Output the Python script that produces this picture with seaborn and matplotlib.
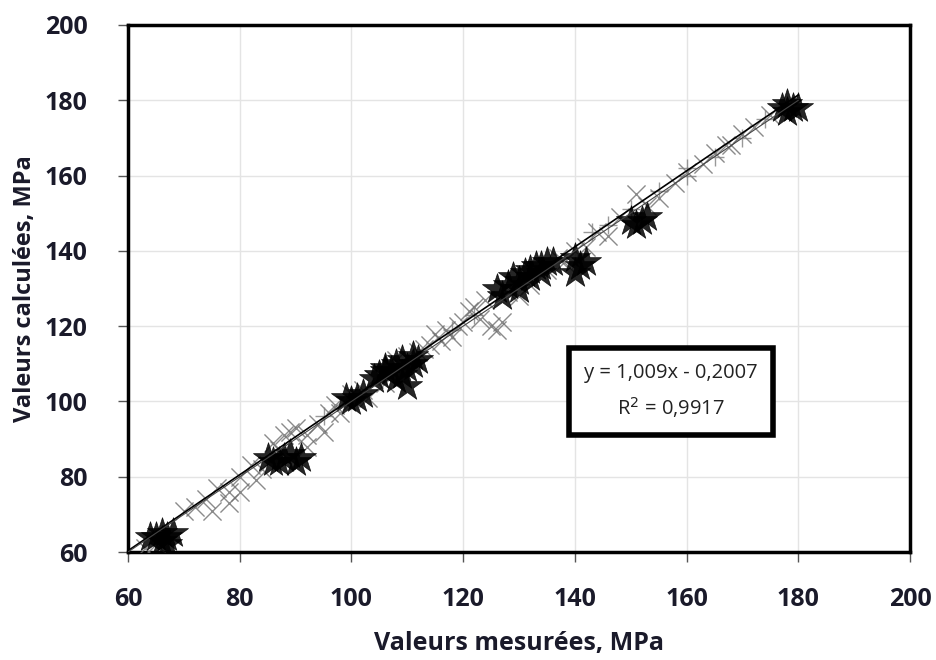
import matplotlib
matplotlib.use("Agg")
import matplotlib.pyplot as plt
import seaborn as sns
import pandas as pd
import numpy as np

# ---- data ----
star_meas = [65, 66, 67, 68, 66, 67, 64,
             85, 86, 88, 90, 91, 89, 87,
             99, 100, 101, 102,
             105, 106, 107, 108, 109, 110, 111, 112, 108, 110, 109, 106, 104, 111,
             126, 128, 129, 130, 131, 132, 133, 134, 135, 136, 130, 132, 127, 134,
             140, 141, 142, 140,
             150, 152, 153, 151,
             177, 178, 179, 178, 180]
star_calc = [64, 63, 64, 65, 65, 62, 64,
             85, 84, 85, 84, 85, 86, 84,
             101, 100, 101, 102,
             107, 109, 108, 110, 111, 109, 110, 111, 106, 104, 107, 108, 106, 112,
             130, 131, 133, 132, 134, 135, 136, 136, 137, 137, 130, 133, 128, 134,
             138, 136, 137, 134,
             148, 148, 149, 147,
             178, 179, 178, 177, 178]

x_meas = [63, 65, 70, 72, 74, 76, 78, 80, 82, 84, 86, 87, 88, 89, 90, 92, 94,
          96, 98, 100, 102, 104, 106, 108, 110, 112, 114, 115, 116, 117, 118,
          120, 121, 122, 123, 124, 125, 126, 127, 128, 130, 135, 138, 140, 142,
          144, 146, 148, 151, 155, 158, 160, 163, 165, 168, 170, 172, 175,
          75, 78, 80, 83, 92, 95, 97, 103, 113, 119, 132, 137, 153, 167]
x_calc = [61, 62, 71, 72, 74, 77, 76, 80, 83, 82, 89, 87, 91, 92, 93, 91, 94,
          97, 97, 102, 103, 106, 105, 111, 112, 113, 115, 118, 116, 119, 117,
          121, 124, 125, 122, 127, 120, 119, 121, 129, 128, 135, 137, 140, 141,
          145, 144, 149, 155, 154, 158, 161, 163, 166, 168, 171, 173, 176,
          71, 73, 76, 79, 88, 92, 99, 101, 114, 120, 131, 138, 152, 168]

p_meas = [143, 146, 150, 155, 160, 165, 170, 174, 160, 95, 118, 122]
p_calc = [145, 147, 151, 156, 160, 165, 170, 175, 162, 96, 119, 123]

fit_slope = 1.009
fit_intercept = -0.2007
fit_r2 = 0.9917
fit_range = [60, 180]

x_ticks = [60, 80, 100, 120, 140, 160, 180, 200]
y_ticks = [60, 80, 100, 120, 140, 160, 180, 200]

# ---- plotting ----
sns.set_theme(style="white")
plt.rcParams['font.family'] = ['Open Sans', 'DejaVu Sans']

fig = plt.figure(figsize=(9.36, 6.6), dpi=100)
ax = fig.add_axes([128/936, 108/660, (910-128)/936, (552-25)/660])

df_x = pd.DataFrame({"m": x_meas, "c": x_calc})
df_p = pd.DataFrame({"m": p_meas, "c": p_calc})
df_s = pd.DataFrame({"m": star_meas, "c": star_calc})

sns.scatterplot(data=df_x, x="m", y="c", marker="x", s=170, color="#6e6e6e",
                linewidth=1.0, alpha=0.8, ax=ax, zorder=3)
sns.scatterplot(data=df_p, x="m", y="c", marker="+", s=170, color="#808080",
                linewidth=1.0, alpha=0.8, ax=ax, zorder=3)
sns.scatterplot(data=df_s, x="m", y="c", marker="*", s=520, color="black",
                edgecolor="black", linewidth=0.5, alpha=0.85, ax=ax, zorder=4)

fx = np.array(fit_range, dtype=float)
sns.lineplot(x=fx, y=fit_slope * fx + fit_intercept, color="black", lw=1.2, ax=ax, zorder=5)
sns.lineplot(x=fx, y=1.0 * fx + 0.0, color="#444444", lw=0.8, ax=ax, zorder=5)

ax.set_xlim(60, 200)
ax.set_ylim(60, 200)
ax.set_xticks(x_ticks)
ax.set_yticks(y_ticks)
ax.grid(True, color="#e4e4e4", lw=1.0)
ax.set_axisbelow(True)
for sp in ax.spines.values():
    sp.set_visible(True)
    sp.set_color("black")
    sp.set_linewidth(2.5)
ax.tick_params(axis="both", direction="out", length=7, width=1, color="#555555",
               labelsize=18, bottom=True, left=True)
ax.tick_params(axis="x", pad=18)
ax.tick_params(axis="y", pad=22)
for lbl in ax.get_xticklabels() + ax.get_yticklabels():
    lbl.set_fontweight("bold")
    lbl.set_color("#1a1a2a")

ax.set_xlabel("Valeurs mesurées, MPa", fontsize=18, fontweight="bold", labelpad=14,
              color="#1a1a2a")
ax.set_ylabel("Valeurs calculées, MPa", fontsize=17, fontweight="bold", labelpad=6,
              color="#1a1a2a")

eq = f"y = {fit_slope:.3f}x - {abs(fit_intercept):.4f}".replace(".", ",")
r2 = f"R$^2$ = {fit_r2:.4f}".replace(".", ",")
ax.text(0.694, 0.305, eq + "\n" + r2, transform=ax.transAxes, ha="center", va="center",
        fontsize=14.5, linespacing=1.6, color="#222222",
        bbox=dict(boxstyle="square,pad=0.75", fc="white", ec="black", lw=4), zorder=6)

fig.savefig("out.png", dpi=100)
